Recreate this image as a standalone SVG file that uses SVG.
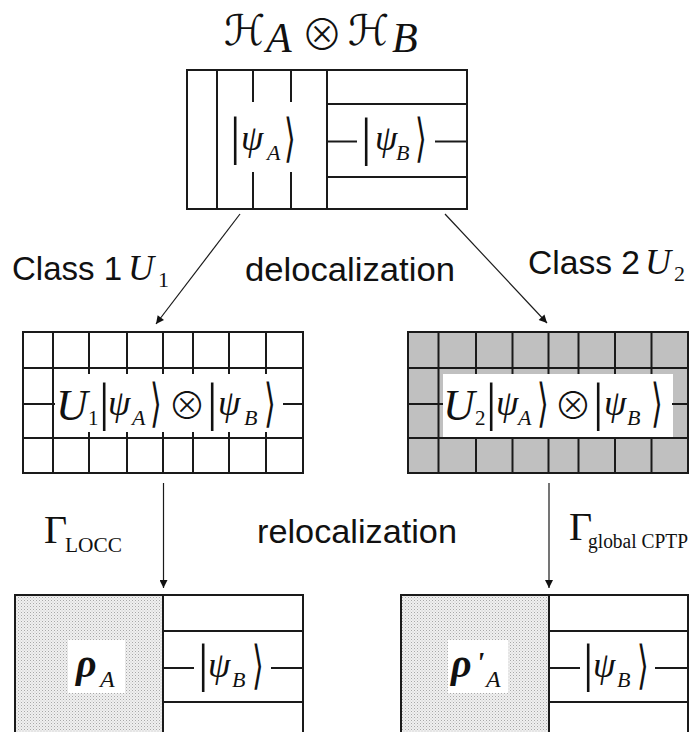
<svg xmlns="http://www.w3.org/2000/svg" width="695" height="732" viewBox="0 0 695 732">
<style>
.bx{fill:none;stroke:#1a1a1a;stroke-width:2}
.ln{stroke:#1a1a1a;stroke-width:2;fill:none}
.ar{stroke:#1a1a1a;stroke-width:1.2;fill:none;marker-end:url(#ah)}
.sans{font-family:"Liberation Sans",Arial,sans-serif;font-size:34px;fill:#111}
.m{font-family:"Liberation Serif","Times New Roman",serif;font-style:italic;fill:#111}
.rm{font-family:"Liberation Serif","Times New Roman",serif;fill:#111}
.psi{font-size:36px}
.sub{font-size:22px}
.bar{font-family:"Liberation Serif",serif;font-size:52px;fill:#111}
.br{font-family:"DejaVu Sans",sans-serif;font-size:40px;font-weight:200;fill:#111}
.ot{font-family:"Noto Sans CJK JP","DejaVu Sans",sans-serif;font-weight:300;fill:#111}
.scr{font-family:"DejaVu Serif","DejaVu Sans",serif;font-size:42px;fill:#111}
</style>
<defs>
<marker id="ah" viewBox="0 0 10 10" refX="10" refY="5" markerWidth="9" markerHeight="8" markerUnits="userSpaceOnUse" orient="auto">
<path d="M0,0 L10,5 L0,10 Z" fill="#111"/>
</marker>
<pattern id="stip" width="3" height="3" patternUnits="userSpaceOnUse">
<rect width="3" height="3" fill="#f0f0f0"/>
<rect x="0" y="0" width="1" height="1" fill="#a8a8a8"/>
<rect x="1.5" y="1.5" width="1" height="1" fill="#c4c4c4"/>
</pattern>
</defs>
<rect width="695" height="732" fill="#fff"/>

<g id="heading">
<text class="scr" x="224" y="45">ℋ</text>
<text class="m" x="266" y="52" font-size="42">A</text>
<text class="ot" x="301" y="50" font-size="42">⊗</text>
<text class="scr" x="348" y="45">ℋ</text>
<text class="m" x="392" y="52" font-size="42">B</text>
</g>

<g id="top-box">
<rect class="bx" x="187" y="70" width="280" height="139"/>
<line class="ln" x1="217" y1="70" x2="217" y2="209"/>
<line class="ln" x1="253" y1="70" x2="253" y2="102"/>
<line class="ln" x1="253" y1="172" x2="253" y2="209"/>
<line class="ln" x1="291" y1="70" x2="291" y2="102"/>
<line class="ln" x1="291" y1="172" x2="291" y2="209"/>
<line class="ln" x1="327" y1="70" x2="327" y2="209"/>
<line class="ln" x1="327" y1="104" x2="467" y2="104"/>
<line class="ln" x1="327" y1="177" x2="467" y2="177"/>
<line class="ln" x1="327" y1="141.5" x2="357" y2="141.5"/>
<line class="ln" x1="435" y1="141.5" x2="467" y2="141.5"/>
<text class="bar" x="230" y="154">|</text>
<text class="m psi" x="241" y="150">ψ</text>
<text class="m sub" x="267" y="160">A</text>
<text class="br" transform="translate(284,156) scale(0.75,1.3)">⟩</text>
<text class="bar" x="361" y="154.5">|</text>
<text class="m psi" x="375" y="150">ψ</text>
<text class="m sub" x="396" y="160">B</text>
<text class="br" transform="translate(415,156) scale(0.75,1.3)">⟩</text>
</g>

<g id="label-class1">
<text class="sans" x="12" y="280" textLength="110" lengthAdjust="spacingAndGlyphs">Class 1</text>
<text class="m" x="128" y="280" font-size="36">U</text>
<text class="rm" x="158" y="287" font-size="22">1</text>
</g>
<g id="label-deloc">
<text class="sans" x="245" y="281" textLength="210" lengthAdjust="spacingAndGlyphs">delocalization</text>
</g>
<g id="label-class2">
<text class="sans" x="528" y="274" textLength="112" lengthAdjust="spacingAndGlyphs">Class 2</text>
<text class="m" x="645" y="274" font-size="36">U</text>
<text class="rm" x="674" y="281" font-size="22">2</text>
</g>

<g id="mid-left">
<rect class="bx" x="23" y="332" width="280" height="141"/>
<line class="ln" x1="23" y1="368" x2="303" y2="368"/>
<line class="ln" x1="23" y1="438" x2="303" y2="438"/>
<line class="ln" x1="53" y1="332" x2="53" y2="473"/>
<path class="ln" d="M89,332V374M127,332V374M163,332V374M193,332V374M229,332V374M266,332V374"/>
<path class="ln" d="M89,432V473M127,432V473M163,432V473M193,432V473M229,432V473M266,432V473"/>
<line class="ln" x1="23" y1="404" x2="55" y2="404"/>
<line class="ln" x1="283" y1="404" x2="303" y2="404"/>
<text class="m" x="56" y="420" font-size="44">U</text>
<text class="rm" x="88" y="425" font-size="21">1</text>
<text class="bar" x="99" y="420">|</text>
<text class="m psi" x="108" y="415">ψ</text>
<text class="m sub" x="132" y="425">A</text>
<text class="br" transform="translate(150,421) scale(0.75,1.3)">⟩</text>
<text class="ot" x="168" y="419" font-size="38">⊗</text>
<text class="bar" x="207" y="420">|</text>
<text class="m psi" x="218" y="415">ψ</text>
<text class="m sub" x="244" y="425">B</text>
<text class="br" transform="translate(264,421) scale(0.75,1.3)">⟩</text>
</g>

<g id="mid-right">
<rect x="408" y="332" width="280" height="141" fill="#c0c0c0"/>
<rect x="443" y="374" width="230" height="63" fill="#fff"/>
<rect class="bx" x="408" y="332" width="280" height="141"/>
<line class="ln" x1="408" y1="368" x2="688" y2="368"/>
<line class="ln" x1="408" y1="438" x2="688" y2="438"/>
<line class="ln" x1="438.5" y1="332" x2="438.5" y2="473"/>
<path class="ln" d="M476,332V374M512.5,332V374M548.5,332V374M578.5,332V374M615,332V374M651.5,332V374"/>
<path class="ln" d="M476,437V473M512.5,437V473M548.5,437V473M578.5,437V473M615,437V473M651.5,437V473"/>
<line class="ln" x1="408" y1="404" x2="443" y2="404"/>
<line class="ln" x1="672" y1="404" x2="688" y2="404"/>
<text class="m" x="443" y="420" font-size="44">U</text>
<text class="rm" x="475" y="425" font-size="21">2</text>
<text class="bar" x="486" y="420">|</text>
<text class="m psi" x="496" y="415">ψ</text>
<text class="m sub" x="518" y="425">A</text>
<text class="br" transform="translate(537,421) scale(0.75,1.3)">⟩</text>
<text class="ot" x="554" y="419" font-size="38">⊗</text>
<text class="bar" x="593" y="420">|</text>
<text class="m psi" x="604" y="415">ψ</text>
<text class="m sub" x="627" y="425">B</text>
<text class="br" transform="translate(651,421) scale(0.75,1.3)">⟩</text>
</g>

<g id="label-locc">
<text class="rm" x="44" y="543" font-size="40">Γ</text>
<text class="rm" x="65" y="552" font-size="21" textLength="57" lengthAdjust="spacingAndGlyphs">LOCC</text>
</g>
<g id="label-reloc">
<text class="sans" x="257" y="543" textLength="200" lengthAdjust="spacingAndGlyphs">relocalization</text>
</g>
<g id="label-cptp">
<text class="rm" x="569" y="540" font-size="40">Γ</text>
<text class="rm" x="588" y="548" font-size="20" textLength="100" lengthAdjust="spacingAndGlyphs">global CPTP</text>
</g>

<g id="bottom-left">
<rect x="15" y="595" width="148" height="150" fill="url(#stip)"/>
<rect x="68" y="640" width="57" height="53" fill="#fff"/>
<rect class="bx" x="15" y="595" width="288" height="150"/>
<line class="ln" x1="163" y1="595" x2="163" y2="745"/>
<line class="ln" x1="163" y1="631" x2="303" y2="631"/>
<line class="ln" x1="163" y1="702" x2="303" y2="702"/>
<line class="ln" x1="163" y1="668" x2="194" y2="668"/>
<line class="ln" x1="271" y1="668" x2="303" y2="668"/>
<text class="m" x="76" y="677" font-size="40" font-weight="bold">ρ</text>
<text class="m" x="100" y="687" font-size="24">A</text>
<text class="bar" x="198" y="681">|</text>
<text class="m psi" x="208" y="677">ψ</text>
<text class="m sub" x="232" y="687">B</text>
<text class="br" transform="translate(252,683) scale(0.75,1.3)">⟩</text>
</g>

<g id="bottom-right">
<rect x="401" y="595" width="148" height="150" fill="url(#stip)"/>
<rect x="448" y="640" width="60" height="53" fill="#fff"/>
<rect class="bx" x="401" y="595" width="287" height="150"/>
<line class="ln" x1="549" y1="595" x2="549" y2="745"/>
<line class="ln" x1="549" y1="631" x2="688" y2="631"/>
<line class="ln" x1="549" y1="702" x2="688" y2="702"/>
<line class="ln" x1="549" y1="668" x2="580" y2="668"/>
<line class="ln" x1="655" y1="668" x2="688" y2="668"/>
<text class="m" x="451" y="677" font-size="40" font-weight="bold">ρ</text>
<text class="m" x="476" y="672" font-size="30" font-weight="bold">'</text>
<text class="m" x="486" y="687" font-size="24">A</text>
<text class="bar" x="583" y="681">|</text>
<text class="m psi" x="593" y="677">ψ</text>
<text class="m sub" x="617" y="687">B</text>
<text class="br" transform="translate(637,683) scale(0.75,1.3)">⟩</text>
</g>

<g id="connectors">
<line class="ar" x1="240" y1="214" x2="156" y2="324"/>
<line class="ar" x1="445" y1="214" x2="547" y2="323"/>
<line class="ar" x1="163.5" y1="483" x2="163.5" y2="588"/>
<line class="ar" x1="549" y1="483" x2="549" y2="588"/>
</g>
</svg>
